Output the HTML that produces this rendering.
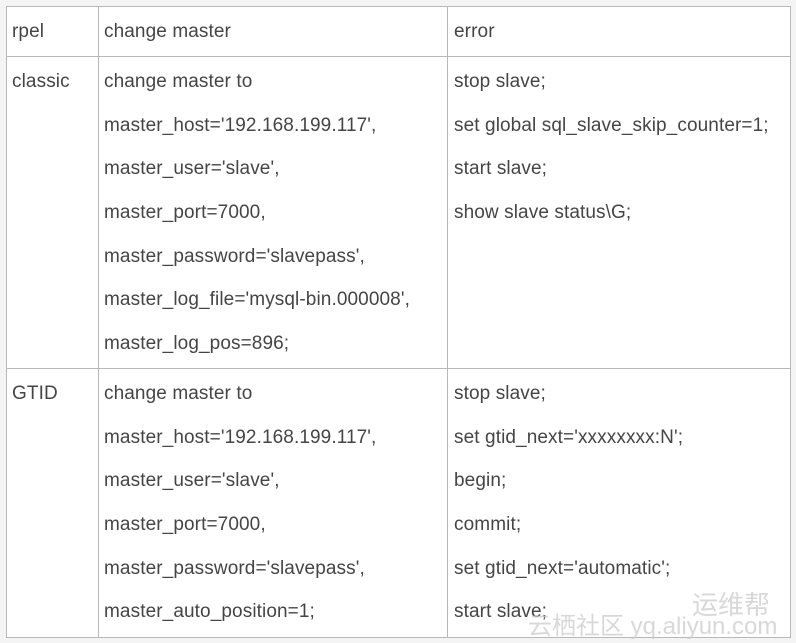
<!DOCTYPE html>
<html><head><meta charset="utf-8"><style>
body{margin:0;width:796px;height:643px;background:#f4f4f4;position:relative;overflow:hidden;font-family:"Liberation Sans","Noto Sans CJK SC",sans-serif;}
.t{position:absolute;left:6px;top:6px;width:783px;height:630px;background:#fff;border:1px solid #b8b8b8;}
.h{position:absolute;left:6px;width:785px;height:1px;background:#b8b8b8;}
.v{position:absolute;top:6px;height:632px;width:1px;background:#b8b8b8;}
.x{position:absolute;font-size:19px;letter-spacing:0.1px;color:#454545;white-space:nowrap;line-height:22px;}
.w{position:absolute;font-size:26px;color:rgba(200,200,200,0.7);white-space:nowrap;}
</style></head><body>
<div class="t"></div>
<div class="h" style="top:56px"></div>
<div class="h" style="top:368px"></div>
<div class="v" style="left:98px"></div>
<div class="v" style="left:447px"></div>
<div class="x" style="left:12px;top:21px">rpel</div>
<div class="x" style="left:104px;top:21px">change master</div>
<div class="x" style="left:454px;top:21px">error</div>
<div class="x" style="left:12px;top:71px">classic</div>
<div class="x" style="left:104px;top:71px">change master to</div>
<div class="x" style="left:104px;top:115px">master_host='192.168.199.117',</div>
<div class="x" style="left:104px;top:158px">master_user='slave',</div>
<div class="x" style="left:104px;top:202px">master_port=7000,</div>
<div class="x" style="left:104px;top:246px">master_password='slavepass',</div>
<div class="x" style="left:104px;top:289px">master_log_file='mysql-bin.000008',</div>
<div class="x" style="left:104px;top:333px">master_log_pos=896;</div>
<div class="x" style="left:454px;top:71px">stop slave;</div>
<div class="x" style="left:454px;top:115px">set global sql_slave_skip_counter=1;</div>
<div class="x" style="left:454px;top:158px">start slave;</div>
<div class="x" style="left:454px;top:202px">show slave status\G;</div>
<div class="x" style="left:12px;top:383px">GTID</div>
<div class="x" style="left:104px;top:383px">change master to</div>
<div class="x" style="left:104px;top:427px">master_host='192.168.199.117',</div>
<div class="x" style="left:104px;top:470px">master_user='slave',</div>
<div class="x" style="left:104px;top:514px">master_port=7000,</div>
<div class="x" style="left:104px;top:558px">master_password='slavepass',</div>
<div class="x" style="left:104px;top:601px">master_auto_position=1;</div>
<div class="x" style="left:454px;top:383px">stop slave;</div>
<div class="x" style="left:454px;top:427px">set gtid_next='xxxxxxxx:N';</div>
<div class="x" style="left:454px;top:470px">begin;</div>
<div class="x" style="left:454px;top:514px">commit;</div>
<div class="x" style="left:454px;top:558px">set gtid_next='automatic';</div>
<div class="x" style="left:454px;top:601px">start slave;</div>
<div class="w" style="left:692px;top:585px">运维帮</div>
<div class="w" style="left:528px;top:606px;font-size:24px">云栖社区 yq.aliyun.com</div>
</body></html>
